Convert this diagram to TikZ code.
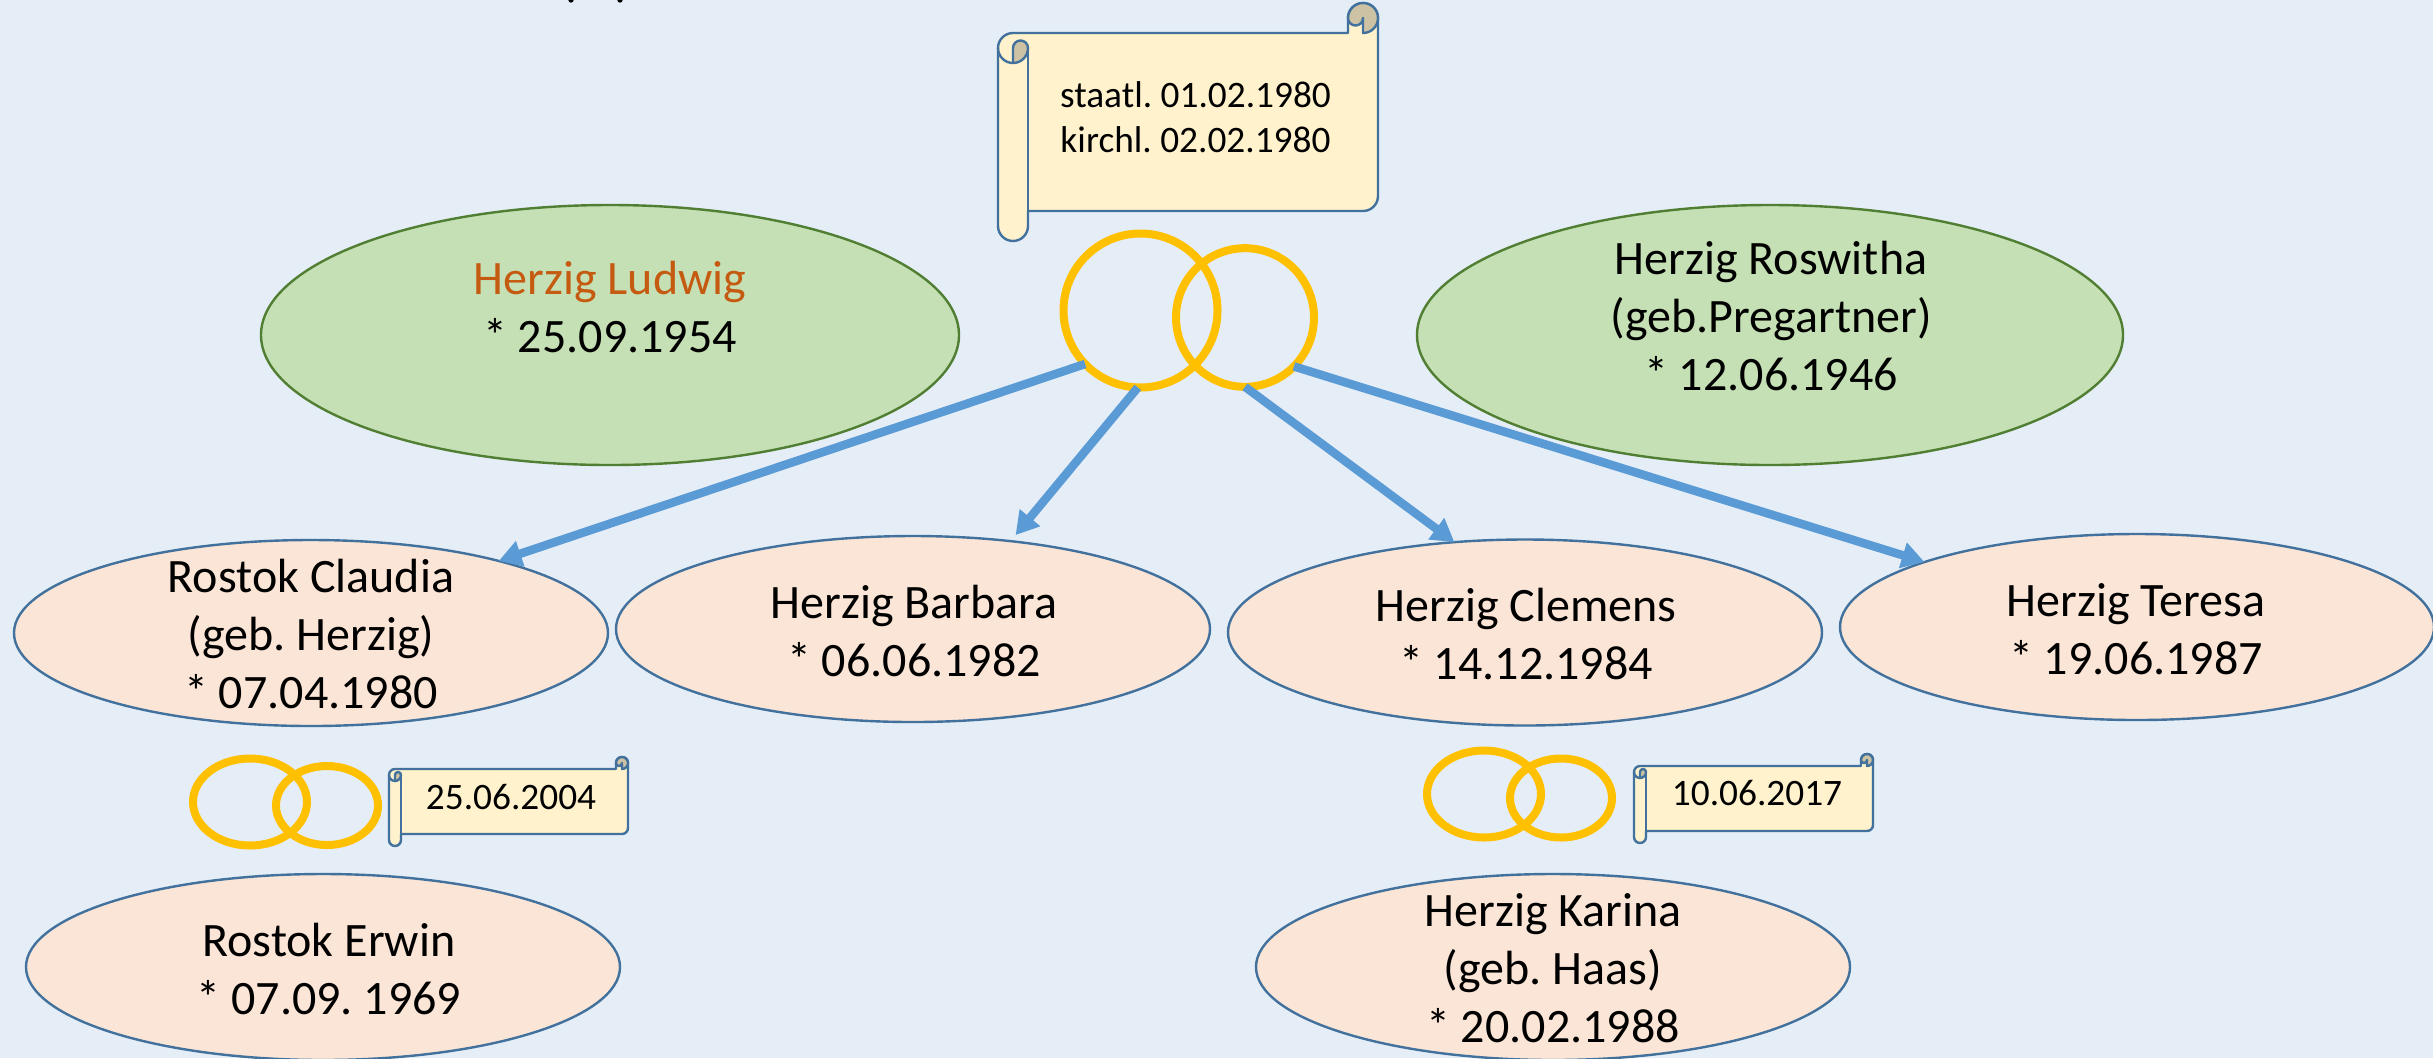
\documentclass[tikz,border=0pt]{standalone}
\usepackage{fontspec}
\setmainfont{Carlito}
\usetikzlibrary{arrows.meta,shapes.geometric}
\definecolor{bgc}{HTML}{E5EDF7}
\definecolor{pinkf}{HTML}{FBE5D6}
\definecolor{blued}{HTML}{41719C}
\definecolor{greenf}{HTML}{C5E0B4}
\definecolor{greend}{HTML}{507E32}
\definecolor{ringc}{HTML}{FFC000}
\definecolor{arrowc}{HTML}{5B9BD5}
\definecolor{creamf}{HTML}{FFF2CC}
\definecolor{tanf}{HTML}{CDC2A3}
\definecolor{namec}{HTML}{C55A11}
\tikzset{
  person/.style={ellipse,draw=blued,fill=pinkf,line width=1.8pt,inner sep=0pt,outer sep=0pt,minimum width=445.5pt,minimum height=139.5pt},
  parent/.style={ellipse,draw=greend,fill=greenf,line width=1.8pt,inner sep=0pt,outer sep=0pt,minimum height=195pt},
  ringshape/.style={ellipse,draw=ringc,line width=6pt,inner sep=0pt,outer sep=0pt},
  bigtext/.style={align=center,font=\fontsize{36}{43.5}\selectfont,inner sep=0pt},
  smalltext/.style={align=center,font=\fontsize{28}{33.3}\selectfont,inner sep=0pt},
  scrollbox/.style={draw=blued,fill=creamf,line width=1.8pt,line join=round},
  scrolltan/.style={draw=blued,fill=tanf,line width=1.8pt,line join=round},
  childarrow/.style={draw=arrowc,line width=6.4pt,-{Triangle[length=17pt,width=19pt]}},
}
\newcommand{\scrollshape}[5]{%
  \pgfmathsetmacro{\rr}{#5/2}%
  \pgfmathsetmacro{\rp}{#5*0.375}%
  \pgfmathsetmacro{\rq}{#5*0.1875}%
  \path[scrollbox] ({#1},{#2+\rr}) arc[start angle=180,end angle=90,radius=\rp pt]
    -- ({#3-#5},{#2}) -- ({#3-#5},{#2-\rr})
    arc[start angle=180,end angle=0,radius=\rp pt]
    -- ({#3},{#4-\rr}) arc[start angle=0,end angle=-90,radius=\rp pt]
    -- ({#1+#5},{#4}) -- ({#1+#5},{#4+\rr})
    arc[start angle=0,end angle=-180,radius=\rp pt] -- cycle;
  \draw[blued,line width=1.8pt] ({#1+#5},{#4}) -- ({#1+#5},{#2+\rr});
  \path[scrolltan] ({#1+\rr},{#2+\rr}) arc[start angle=180,end angle=0,radius=\rq pt]
    arc[start angle=0,end angle=-90,radius=\rp pt] -- cycle;
  \draw[blued,line width=1.8pt] ({#1},{#2+\rr}) arc[start angle=180,end angle=270,radius=\rp pt];
  \path[scrolltan] ({#3-#5},{#2-\rr}) arc[start angle=180,end angle=0,radius=\rp pt]
    arc[start angle=0,end angle=-90,radius=\rp pt]
    -- ({#3-\rr},{#2-\rr}) arc[start angle=0,end angle=-180,radius=\rq pt] -- cycle;
}
\begin{document}
\frenchspacing
\begin{tikzpicture}[x=0.75pt,y=-0.75pt]
\fill[bgc] (0,0) rectangle (2433,1058);
\useasboundingbox (0,0) rectangle (2433,1058);
% clipped remnants at top edge
\fill[black] (571,0) circle[radius=2pt];
\fill[black] (620,0) circle[radius=2pt];
% parents
\node[parent,minimum width=523.5pt] (ludwig) at (610,335) {};
\node[parent,minimum width=529.5pt] (roswitha) at (1770,335) {};
\node[bigtext,text=namec] (ludwigname) at (610,282) {Herzig Ludwig};
\node[bigtext] (ludwigdate) at (610,336) {* 25.09.1954};
\node[bigtext] (roswithat) at (1771,316) {Herzig Roswitha\\(geb.Pregartner)\\* 12.06.1946};
% children
\node[person] (claudia) at (311,633) {};
\node[person] (barbara) at (913,629) {};
\node[person] (clemens) at (1525,632.5) {};
\node[person] (teresa) at (2137,627) {};
\node[person] (erwin) at (323,967) {};
\node[person] (karina) at (1553,967) {};
\node[bigtext] (claudiat) at (311,634.5) {Rostok Claudia\\(geb. Herzig)\\* 07.04.1980};
\node[bigtext] (barbarat) at (914,631) {Herzig Barbara\\* 06.06.1982};
\node[bigtext] (clemenst) at (1526,634) {Herzig Clemens\\* 14.12.1984};
\node[bigtext] (teresat) at (2136,629.5) {Herzig Teresa\\* 19.06.1987};
\node[bigtext] (erwint) at (329,969) {Rostok Erwin\\* 07.09. 1969};
\node[bigtext] (karinat) at (1553,968) {Herzig Karina\\(geb. Haas)\\* 20.02.1988};
% scrolls
\scrollshape{998}{33}{1378}{211}{30}
\node[smalltext] (marriagetext) at (1195.5,117) {staatl. 01.02.1980\\kirchl. 02.02.1980};
\scrollshape{389}{769}{628}{834}{12}
\node[smalltext] (datea) at (511,797) {25.06.2004};
\scrollshape{1634}{766}{1873}{831}{12}
\node[smalltext] (dateb) at (1757,793) {10.06.2017};
% rings
\node[ringshape,minimum width=115.5pt,minimum height=115.5pt] (ringA) at (1140.5,310.5) {};
\node[ringshape,minimum width=103.5pt,minimum height=104pt] (ringB) at (1245,317.5) {};
\node[ringshape,minimum width=85.5pt,minimum height=65.25pt] (ringC) at (250,802) {};
\node[ringshape,minimum width=76.5pt,minimum height=59.25pt] (ringD) at (327,805.5) {};
\node[ringshape,minimum width=85.5pt,minimum height=65.25pt] (ringE) at (1484,794) {};
\node[ringshape,minimum width=76.5pt,minimum height=59.25pt] (ringF) at (1561,798) {};
% arrows
\draw[childarrow] (ringA.224.5) -- (claudia.21.4);
\draw[childarrow,shorten >=5.9pt] (ringA.268) -- (barbara.42.4);
\draw[childarrow] (ringB.270) -- (clemens.128.1);
\draw[childarrow] (ringB.315) -- (teresa.163);
\end{tikzpicture}
\end{document}
